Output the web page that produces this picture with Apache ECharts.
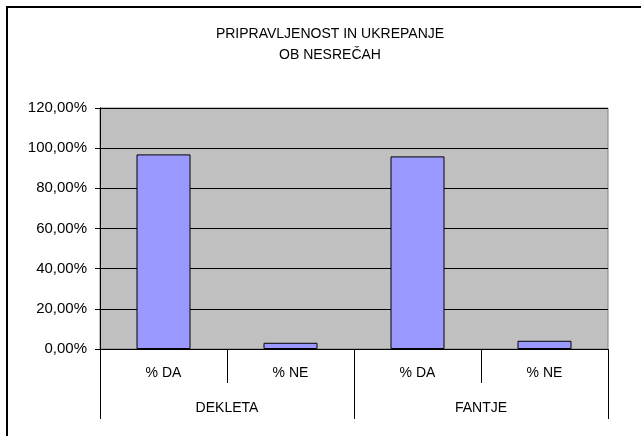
<!DOCTYPE html>
<html>
<head>
<meta charset="utf-8">
<script src="https://cdn.jsdelivr.net/npm/echarts@6/dist/echarts.min.js"></script>
<style>
  html, body { margin: 0; padding: 0; background: #fff; }
  #main { width: 641px; height: 436px; }
</style>
</head>
<body>
<div id="main"></div>
<script>
var titleText = 'PRIPRAVLJENOST IN UKREPANJE\nOB NESREČAH';
var answers = ['% DA', '% NE', '% DA', '% NE'];
var groups = ['DEKLETA', 'FANTJE'];
var shares = [0.969, 0.031, 0.959, 0.041];
var yTicks = [0, 0.2, 0.4, 0.6, 0.8, 1.0, 1.2];

var myChart = echarts.init(document.getElementById('main'));

function pct(v) { // 0.2 -> "20,00%"
    return (v * 100).toFixed(2).replace('.', ',') + '%';
}

var font = 'Liberation Sans, Arial, sans-serif';

var options = {
    animation: false,
    title: {
        text: titleText,
        left: 330,
        textAlign: 'center',
        top: 24,
        padding: 0,
        textStyle: {
            fontFamily: font,
            fontSize: 14,
            fontWeight: 'normal',
            color: '#000',
            lineHeight: 21
        }
    },
    graphic: [{
        type: 'polyline',
        shape: { points: [[7, 436], [7, 7], [641, 7]] },
        style: { stroke: '#000', lineWidth: 2, fill: null }
    }],
    grid: {
        left: 100,
        right: 33,
        top: 108,
        bottom: 87,
        show: true,
        backgroundColor: '#c0c0c0',
        borderColor: '#808080',
        borderWidth: 1
    },
    xAxis: [{
        type: 'category',
        data: answers,
        position: 'bottom',
        axisLine: { show: true, lineStyle: { color: '#000', width: 1 } },
        axisTick: { show: true, length: 34, interval: 0, lineStyle: { color: '#000' } },
        axisLabel: { margin: 17, interval: 0, fontFamily: font, fontSize: 14, color: '#000' },
        splitLine: { show: false }
    }, {
        type: 'category',
        data: groups,
        position: 'bottom',
        axisLine: { show: false },
        axisTick: { show: true, length: 70, interval: 0, lineStyle: { color: '#000' } },
        axisLabel: { margin: 52, interval: 0, fontFamily: font, fontSize: 14, color: '#000' },
        splitLine: { show: false }
    }],
    yAxis: {
        type: 'value',
        min: yTicks[0],
        max: yTicks[yTicks.length - 1],
        interval: 0.2,
        axisLine: { show: true, lineStyle: { color: '#000' } },
        axisTick: { show: true, length: 5, lineStyle: { color: '#000' } },
        axisLabel: {
            margin: 13,
            fontFamily: font,
            fontSize: 15,
            color: '#000',
            formatter: pct
        },
        splitLine: { show: true, lineStyle: { color: '#000', width: 1 } }
    },
    series: [{
        type: 'bar',
        xAxisIndex: 0,
        data: shares,
        barWidth: 54,
        itemStyle: {
            color: '#9999ff',
            borderColor: '#000',
            borderWidth: 1
        }
    }]
};

myChart.setOption(options);
</script>
</body>
</html>
